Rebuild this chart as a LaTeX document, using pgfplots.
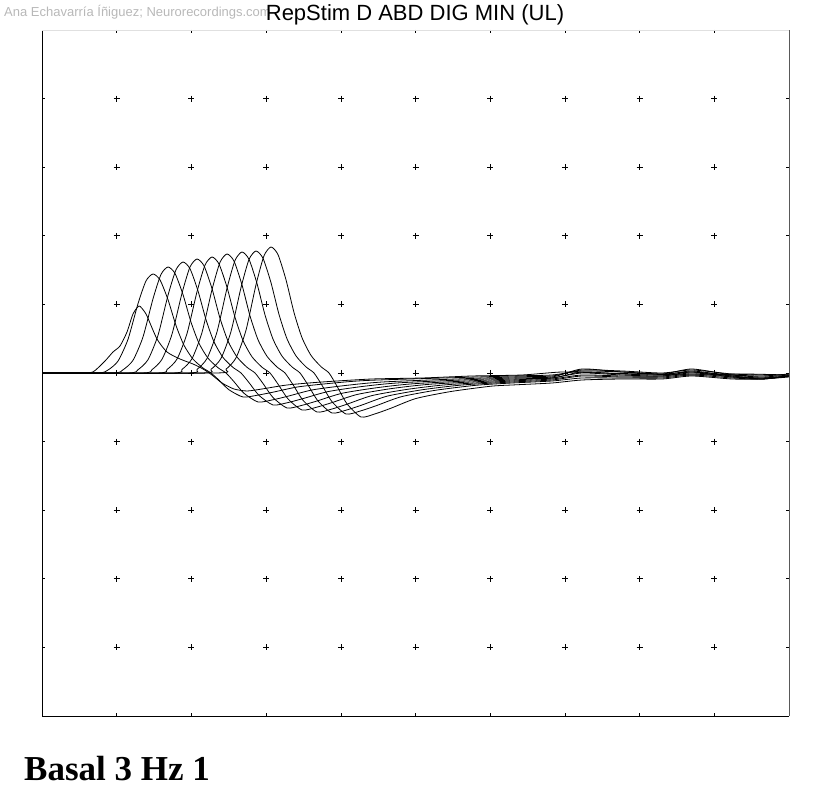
\documentclass[border=0pt]{standalone}
\usepackage{fontspec}
\setmainfont{Liberation Serif}
\newfontfamily\arialfont{Liberation Sans}
\usepackage{pgfplots}
\pgfplotsset{compat=1.18}
\pgfplotsset{trace/.style={black, line width=0.8pt, mark=none, smooth, tension=0.4}}
\begin{document}
\begin{tikzpicture}
\path[use as bounding box] (0pt,0pt) rectangle (840pt,802pt);
\node[anchor=base west, inner sep=0pt, text=black!28, font=\arialfont\fontsize{13}{15}\selectfont] at (4pt,785pt) {Ana Echavarría Íñiguez; Neurorecordings.com};
\begin{axis}[name=ax, at={(42pt,86pt)}, anchor=south west, scale only axis,
  width=747pt, height=686pt, xmin=0, xmax=747, ymin=-343, ymax=343,
  axis line style={draw=none},
  xtick={74.7,149.4,224.1,298.8,373.5,448.2,522.9,597.6,672.3},
  ytick={-274.4,-205.8,-137.2,-68.6,0,68.6,137.2,205.8,274.4},
  xticklabels={}, yticklabels={},
  tick align=inside, major tick length=3pt,
  tick style={black, line width=0.6pt}]
\addplot[only marks, mark=+, mark size=3pt, mark options={line width=0.6pt, black}] coordinates {
(74.7,274.4) (149.4,274.4) (224.1,274.4) (298.8,274.4) (373.5,274.4) (448.2,274.4) (522.9,274.4) (597.6,274.4) (672.3,274.4)
(74.7,205.8) (149.4,205.8) (224.1,205.8) (298.8,205.8) (373.5,205.8) (448.2,205.8) (522.9,205.8) (597.6,205.8) (672.3,205.8)
(74.7,137.2) (149.4,137.2) (224.1,137.2) (298.8,137.2) (373.5,137.2) (448.2,137.2) (522.9,137.2) (597.6,137.2) (672.3,137.2)
(74.7,68.6) (149.4,68.6) (224.1,68.6) (298.8,68.6) (373.5,68.6) (448.2,68.6) (522.9,68.6) (597.6,68.6) (672.3,68.6)
(74.7,0) (149.4,0) (224.1,0) (298.8,0) (373.5,0) (448.2,0) (522.9,0) (597.6,0) (672.3,0)
(74.7,-68.6) (149.4,-68.6) (224.1,-68.6) (298.8,-68.6) (373.5,-68.6) (448.2,-68.6) (522.9,-68.6) (597.6,-68.6) (672.3,-68.6)
(74.7,-137.2) (149.4,-137.2) (224.1,-137.2) (298.8,-137.2) (373.5,-137.2) (448.2,-137.2) (522.9,-137.2) (597.6,-137.2) (672.3,-137.2)
(74.7,-205.8) (149.4,-205.8) (224.1,-205.8) (298.8,-205.8) (373.5,-205.8) (448.2,-205.8) (522.9,-205.8) (597.6,-205.8) (672.3,-205.8)
(74.7,-274.4) (149.4,-274.4) (224.1,-274.4) (298.8,-274.4) (373.5,-274.4) (448.2,-274.4) (522.9,-274.4) (597.6,-274.4) (672.3,-274.4)
};
% trace 1
\addplot[trace] coordinates {(0,0) (40,0) (51,1) (63,12) (71,21) (78,27) (85,41) (91,59) (97,67) (102,62) (105,57) (115,34) (125,21) (138,14) (151,9) (161,4) (170,-2) (180,-10) (192,-16) (205,-18) (220,-16) (245,-12) (280,-9) (330,-6) (380,-5) (430,-3) (480,-2) (520,1) (560,0) (600,-1) (650,-2) (700,-1) (747,-2)};
% trace 2
\addplot[trace] coordinates {(0,0) (56,0) (66,3.0) (76,11.9) (86,33.7) (96,69.3) (104,92.1) (111,99) (118,93.1) (126,73.3) (134,47.5) (142,27.7) (151,13.9) (161,5.0) (169,0) (177,-7.2) (187,-16.8) (201,-24) (215,-22.3) (231,-19.2) (256,-13.9) (291,-10.1) (331,-7.2) (470,-3) (510,-2) (540,2) (580,1) (620,-1) (650,1) (690,-2) (720,-3) (747,-1)};
% trace 3
\addplot[trace] coordinates {(0,0) (71,0) (81,3.2) (91,12.7) (101,36.0) (111,74.2) (119,98.6) (126,106) (133,99.6) (141,78.4) (149,50.9) (157,29.7) (166,14.8) (176,5.3) (184,0) (192,-8.7) (202,-20.3) (216,-29) (230,-27.0) (246,-23.2) (271,-16.8) (306,-12.2) (346,-8.7) (470,-4) (510,-3) (540,3) (580,2) (620,0) (650,3) (690,-1) (720,-2) (747,-2)};
% trace 4
\addplot[trace] coordinates {(0,0) (86,0) (96,3.3) (106,13.3) (116,37.7) (126,77.7) (134,103.2) (141,111) (148,104.3) (156,82.1) (164,53.3) (172,31.1) (181,15.5) (191,5.6) (199,0) (207,-9.6) (217,-22.4) (231,-32) (245,-29.8) (261,-25.6) (286,-18.6) (321,-13.4) (361,-9.6) (470,-5) (510,-4) (540,4) (580,1) (620,-1) (650,4) (690,-2) (720,-4) (747,-2)};
% trace 5
\addplot[trace] coordinates {(0,0) (100,0) (110,3.4) (120,13.7) (130,38.8) (140,79.8) (148,106.0) (155,114) (162,107.2) (170,84.4) (178,54.7) (186,31.9) (195,16.0) (205,5.7) (213,0) (221,-10.5) (231,-24.5) (245,-35) (259,-32.6) (275,-28) (300,-20.3) (335,-14.7) (375,-10.5) (470,-6) (510,-5) (540,1) (580,-1) (620,-2) (650,2) (690,-3) (720,-5) (747,-3)};
% trace 6
\addplot[trace] coordinates {(0,0) (115,0) (125,3.5) (135,13.9) (145,39.4) (155,81.2) (163,107.9) (170,116) (177,109.0) (185,85.8) (193,55.7) (201,32.5) (210,16.2) (220,5.8) (228,0) (236,-11.1) (246,-25.9) (260,-37) (274,-34.4) (290,-29.6) (315,-21.5) (350,-15.5) (390,-11.1) (470,-7) (510,-5) (540,0) (580,-2) (620,-3) (650,1) (690,-4) (720,-5) (747,-3)};
% trace 7
\addplot[trace] coordinates {(0,0) (130,0) (140,3.6) (150,14.3) (160,40.5) (170,83.3) (178,110.7) (185,119) (192,111.9) (200,88.1) (208,57.1) (216,33.3) (225,16.7) (235,6.0) (243,0) (251,-11.7) (261,-27.3) (275,-39) (289,-36.3) (305,-31.2) (330,-22.6) (365,-16.4) (405,-11.7) (470,-8) (510,-6) (540,-2) (580,-3) (620,-3) (650,0) (690,-3) (720,-6) (747,-3)};
% trace 8
\addplot[trace] coordinates {(0,0) (145,0) (155,3.6) (165,14.5) (175,41.1) (185,84.7) (193,112.5) (200,121) (207,113.7) (215,89.5) (223,58.1) (231,33.9) (240,16.9) (250,6.1) (258,0) (266,-12) (276,-28) (290,-40) (304,-37.2) (320,-32) (345,-23.2) (380,-16.8) (420,-12) (470,-9) (510,-7) (540,-3) (580,-4) (620,-4) (650,-1) (690,-4) (720,-6) (747,-3)};
% trace 9
\addplot[trace] coordinates {(0,0) (159,0) (169,3.7) (179,14.6) (189,41.5) (199,85.4) (207,113.5) (214,122) (221,114.7) (229,90.3) (237,58.6) (245,34.2) (254,17.1) (264,6.1) (272,0) (280,-12.3) (290,-28.7) (304,-41) (318,-38.1) (334,-32.8) (359,-23.8) (394,-17.2) (434,-12.3) (470,-10) (510,-8) (540,-5) (580,-5) (620,-5) (650,-2) (690,-5) (720,-6) (747,-3)};
% trace 10
\addplot[trace] coordinates {(0,0) (174,0) (184,3.8) (194,15.1) (204,42.8) (214,88.2) (222,117.2) (229,126) (236,118.4) (244,93.2) (252,60.5) (260,35.3) (269,17.6) (279,6.3) (287,0) (295,-13.2) (305,-30.8) (319,-44) (333,-40.9) (349,-35.2) (374,-25.5) (409,-18.5) (449,-13.2) (470,-12) (510,-10) (540,-7) (580,-6) (620,-6) (650,-3) (690,-6) (720,-6) (747,-4)};
\end{axis}
\draw[black, line width=0.9pt] (ax.south west) -- (ax.north west);
\draw[black, line width=0.9pt] (ax.south west) -- (ax.south east);
\draw[black!65, line width=0.9pt] (ax.south east) -- (ax.north east);
\draw[black!12, line width=0.9pt] (ax.north west) -- (ax.north east);
\node[anchor=base, inner sep=0pt, font=\arialfont\fontsize{22}{26}\selectfont] at (415pt,781pt) {RepStim D ABD DIG MIN (UL)};
\node[anchor=base west, inner sep=0pt, font=\bfseries\fontsize{35}{40}\selectfont] at (24pt,21pt) {Basal 3 Hz 1};
\end{tikzpicture}
\end{document}
